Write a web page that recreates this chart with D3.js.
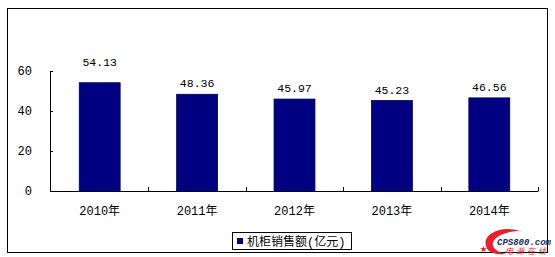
<!DOCTYPE html>
<html>
<head>
<meta charset="utf-8">
<script src="https://cdn.jsdelivr.net/npm/d3@7"></script>
<style>
  body { margin: 0; background: #fff; }
  svg { display: block; }
  text { font-family: "Liberation Mono", "Noto Sans CJK SC", monospace; fill: #000; }
</style>
</head>
<body>
<svg id="chart" width="555" height="257"></svg>
<script>
const years = ['2010年', '2011年', '2012年', '2013年', '2014年'];
const sales = [54.13, 48.36, 45.97, 45.23, 46.56];
const yTicks = [0, 20, 40, 60];
const seriesName = '机柜销售额(亿元)';

const svg = d3.select('#chart');

// outer frame
svg.append('rect')
  .attr('x', 7.5).attr('y', 8.5)
  .attr('width', 540).attr('height', 244)
  .attr('fill', '#fff').attr('stroke', '#000');

const x = d3.scaleBand()
  .domain(years)
  .range([51, 538])
  .paddingInner(0.58)
  .paddingOuter(0.29);

const y = d3.scaleLinear()
  .domain([0, 60])
  .range([191, 71]);

// bars
svg.selectAll('rect.bar')
  .data(sales)
  .enter().append('rect')
  .attr('class', 'bar')
  .attr('x', (d, i) => x(years[i]))
  .attr('y', d => y(d))
  .attr('width', x.bandwidth())
  .attr('height', d => y(0) - y(d))
  .attr('fill', '#000080')
  .attr('stroke', '#00005a')
  .attr('stroke-width', 0.8);

// value labels (first one sits a little higher in the original)
svg.selectAll('text.val')
  .data(sales)
  .enter().append('text')
  .attr('class', 'val')
  .attr('x', (d, i) => x(years[i]) + x.bandwidth() / 2)
  .attr('y', (d, i) => y(d) - (i === 0 ? 17 : 7))
  .attr('text-anchor', 'middle')
  .attr('font-size', 11.5)
  .text(d => d.toFixed(2));

// y axis
const yAxis = svg.append('g');
yAxis.append('line')
  .attr('x1', 50.5).attr('x2', 50.5)
  .attr('y1', y(60)).attr('y2', y(0) + 0.5)
  .attr('stroke', '#000');
yAxis.selectAll('line.tick')
  .data(yTicks)
  .enter().append('line')
  .attr('class', 'tick')
  .attr('x1', 50.5).attr('x2', 53)
  .attr('y1', d => Math.round(y(d)) + 0.5)
  .attr('y2', d => Math.round(y(d)) + 0.5)
  .attr('stroke', '#000');
yAxis.selectAll('text')
  .data(yTicks)
  .enter().append('text')
  .attr('x', 32)
  .attr('y', d => y(d) + 4)
  .attr('text-anchor', 'end')
  .attr('font-size', 12)
  .text(d => d);

// x axis
const xAxis = svg.append('g');
xAxis.append('line')
  .attr('x1', 50).attr('x2', 538.5)
  .attr('y1', y(0) + 0.5).attr('y2', y(0) + 0.5)
  .attr('stroke', '#000');
const bounds = years.slice(1).map(d => x(d) - x.step() * x.paddingInner() / 2).concat([538]);
xAxis.selectAll('line.tick')
  .data(bounds)
  .enter().append('line')
  .attr('class', 'tick')
  .attr('x1', d => Math.round(d) + 0.5).attr('x2', d => Math.round(d) + 0.5)
  .attr('y1', y(0)).attr('y2', y(0) - 4)
  .attr('stroke', '#000');
xAxis.selectAll('text')
  .data(years)
  .enter().append('text')
  .attr('x', d => x(d) + x.bandwidth() / 2)
  .attr('y', 215)
  .attr('text-anchor', 'middle')
  .attr('font-size', 12)
  .text(d => d);

// legend
const legend = svg.append('g');
legend.append('rect')
  .attr('x', 232.5).attr('y', 232.5)
  .attr('width', 119).attr('height', 17)
  .attr('fill', '#fff').attr('stroke', '#000');
legend.append('rect')
  .attr('x', 237).attr('y', 238)
  .attr('width', 6).attr('height', 6)
  .attr('fill', '#000080');
legend.append('text')
  .attr('x', 247).attr('y', 245.5)
  .attr('font-size', 12)
  .text(seriesName);

// watermark
const mark = svg.append('g');
mark.append('path')
  .attr('d', 'M 520 231 C 500 224, 478 236, 488 250 C 492 254, 500 255, 506 254 C 496 252, 488 246, 496 238 C 502 233, 512 231, 520 231 Z')
  .attr('fill', '#e8202a');
mark.append('text')
  .attr('x', 497).attr('y', 245)
  .attr('font-family', 'Liberation Sans, Arial, sans-serif')
  .attr('font-size', 9)
  .attr('font-weight', 'bold')
  .attr('font-style', 'italic')
  .style('fill', '#1a2a66')
  .text('CPS800.com');
mark.append('text')
  .attr('x', 505).attr('y', 254)
  .attr('font-family', 'Noto Sans CJK SC, sans-serif')
  .attr('font-size', 8)
  .attr('font-style', 'italic')
  .attr('letter-spacing', 3)
  .style('fill', '#e8202a')
  .text('电源在线');
mark.append('text')
  .attr('x', 480).attr('y', 251)
  .attr('font-size', 7)
  .style('fill', '#e8202a')
  .text('★');
</script>
</body>
</html>
